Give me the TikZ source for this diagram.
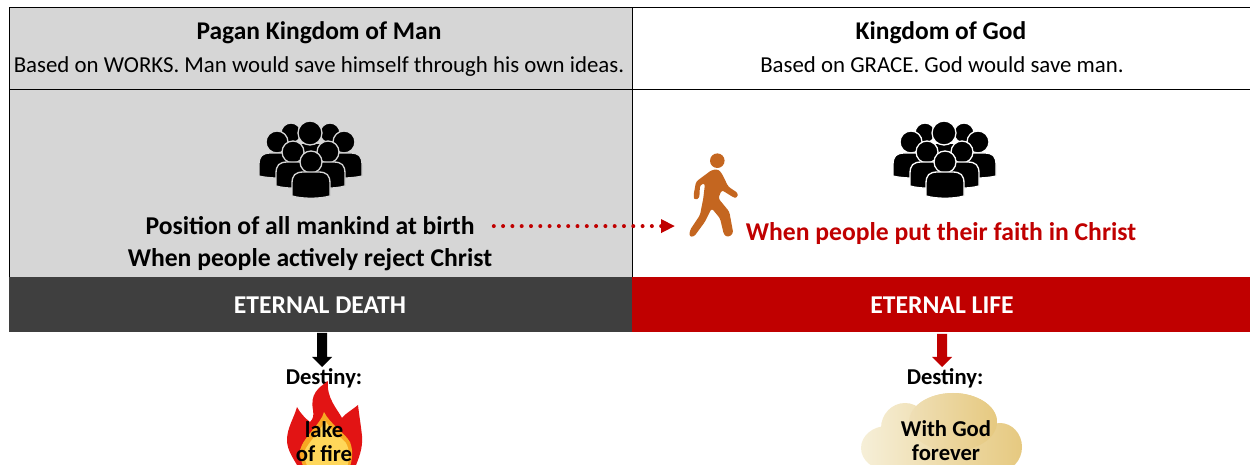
\documentclass[tikz,border=0pt]{standalone}
\usepackage{fontspec}
\setmainfont{Carlito}
\usetikzlibrary{arrows.meta,calc}
\definecolor{cellgray}{HTML}{D6D6D6}
\definecolor{banddark}{HTML}{3F3F3F}
\definecolor{bandred}{HTML}{C00000}
\definecolor{walkcol}{HTML}{C46620}
\definecolor{flamered}{HTML}{E21414}
\definecolor{flameorange}{HTML}{F7A823}
\definecolor{flameyellow}{HTML}{FFD75A}
\definecolor{cloudpale}{HTML}{F6EFD8}
\definecolor{cloudmid}{HTML}{EFDFB6}
\definecolor{clouddeep}{HTML}{E6C980}
\newcommand{\crowdbody}[4]{% center x, top y, half width, bottom y
	\filldraw (#1-#3,#4-2) -- (#1-#3,#2+12) .. controls (#1-#3,#2+3) and (#1-#3+3,#2) .. (#1-#3+12,#2)
	-- (#1+#3-12,#2) .. controls (#1+#3-3,#2) and (#1+#3,#2+3) .. (#1+#3,#2+12) -- (#1+#3,#4-2)
	.. controls (#1+#3-10,#4+1) and (#1-#3+10,#4+1) .. cycle;
}
\tikzset{
	title/.style={font=\fontsize{14.5}{16}\selectfont\bfseries},
	subtitle/.style={font=\fontsize{13}{15}\selectfont},
	bigtext/.style={font=\fontsize{14.6}{16}\selectfont\bfseries},
	bandtext/.style={font=\fontsize{14.6}{16}\selectfont\bfseries, text=white},
	desttext/.style={font=\fontsize{12.9}{13.6}\selectfont\bfseries, align=center},
	pics/crowd/.style={code={
		\begin{scope}[fill=black, draw=#1, line width=0.026cm]
			\filldraw (-19,-27) circle (10);
			\filldraw (20,-27) circle (10);
			\fill (-10,-16) rectangle (10,8);
			\filldraw (0,-27) circle (12);
			\filldraw (-33,-18) circle (11);
			\filldraw (34,-18) circle (11);
			\crowdbody{-25}{-7}{26}{18}
			\crowdbody{26}{-7}{26}{18}
			\fill (-8,-8) rectangle (8,8);
			\filldraw (-17,-8) circle (11);
			\filldraw (18,-8) circle (11);
			\crowdbody{-14}{2}{20}{28}
			\crowdbody{15}{2}{20}{28}
			\filldraw (1,2) circle (11);
			\crowdbody{1}{12}{19}{38}
		\end{scope}
	}}
}
\begin{document}
\begin{tikzpicture}[x=0.02cm, y=-0.02cm, line join=round, >=stealth]
	\useasboundingbox (0,0) rectangle (1250,465);
	\clip (0,0) rectangle (1250,465);
	\path
	(9,8) coordinate (TL)
	(632,8) coordinate (TM)
	(1250,8) coordinate (TR)
	(9,90) coordinate (HL)
	(632,90) coordinate (HM)
	(1250,90) coordinate (HR)
	(9,277) coordinate (BL)
	(632,277) coordinate (BM)
	(1250,277) coordinate (BR)
	(9,332) coordinate (EL)
	(632,332) coordinate (EM)
	(1250,332) coordinate (ER)
	(675,226) coordinate (walker)
	;
	% cells and bands
	\fill[cellgray] (TL) rectangle (BM);
	\fill[banddark] (BL) rectangle (EM);
	\fill[bandred] (BM) rectangle (ER);
	\draw[line width=0.02cm] (TR)--(TL)--(BL) (HL)--(HR) (TM)--(BM);
	% texts
	\foreach \ten/\x/\y/\kieu/\chu in {
		lefttitle/319/40/title/Pagan Kingdom of Man,
		righttitle/941/40/title/Kingdom of God,
		leftsub/319/73/subtitle/Based on WORKS. Man would save himself through his own ideas.,
		rightsub/942/73/subtitle/Based on GRACE. God would save man.,
		birth/310/235/bigtext/Position of all mankind at birth,
		reject/310/267/bigtext/When people actively reject Christ,
		death/320/314/bandtext/ETERNAL DEATH,
		life/942/314/bandtext/ETERNAL LIFE,
		destleft/324/385/desttext/Destiny:,
		destright/945/385/desttext/Destiny:}{
		\node[\kieu, inner sep=0pt, anchor=base] (\ten) at (\x,\y) {\chu};
	}
	\node[bigtext, text=bandred, inner sep=0pt, anchor=base] (faith) at (941,241) {When people put their faith in Christ};
	% people
	\pic at (310,160) {crowd=cellgray};
	\pic at (944,160) {crowd=white};
	\fill[walkcol] (717.3,160.7) circle (7.3);
	\fill[walkcol, rounded corners=0.05cm] (711.7,170)--(718.3,169.3)--(721.7,173.3)--(728.3,186.7)--(738.3,193.3)--(736.7,198.3)--(733.3,197.3)--(721.7,190)
	--(718.3,198.3)--(729.3,211.7)--(733.3,233.3)--(728.3,237.3)--(724,235)--(720,218.3)--(711.7,208.3)--(705,221.7)--(694,236.7)--(689.3,236.7)
	--(690,230)--(700,215)--(703.3,198.3)--(705,183.3)--(700,185)--(699.3,198.3)--(695,200)--(693.3,196.7)--(696,181.7)--cycle;
	% dotted arrow
	\draw[bandred, line width=0.08cm, line cap=round, dash pattern=on 0pt off 0.186cm, -{Triangle[length=0.28cm,width=0.26cm]}]
	($(birth.east)+(19,0)$)--(birth.east -| walker);
	% block arrows
	\fill[black] (317,333)--(327,333)--(327,357)--(332,357)--(322,367)--(312,357)--(317,357)--cycle;
	\fill[bandred] (937,334)--(947,334)--(947,357)--(952,357)--(942,367)--(932,357)--(937,357)--cycle;
	% flame
	\fill[flamered] (328,381) .. controls (318,388) and (310,394) .. (313,410) .. controls (314,416) and (313,419) .. (310,422)
	.. controls (306,419) and (300,413) .. (297,407) .. controls (294,418) and (287,428) .. (287,440)
	.. controls (287,450) and (293,458) .. (300,470) -- (354,470) .. controls (359,458) and (363,448) .. (362,436)
	.. controls (361,426) and (359,414) .. (358,405) .. controls (352,410) and (346,413) .. (342,418)
	.. controls (338,410) and (326,398) .. cycle;
	\fill[flameorange] (324,412) .. controls (321,424) and (304,436) .. (300,450) .. controls (299,456) and (302,464) .. (305,470)
	-- (349,470) .. controls (353,458) and (353,450) .. (350,442) .. controls (344,432) and (330,424) .. cycle;
	\fill[flameyellow] (325,420) .. controls (322,430) and (308,442) .. (304,452) .. controls (304,458) and (306,464) .. (309,470)
	-- (346,470) .. controls (350,460) and (350,450) .. (346,443) .. controls (340,436) and (330,430) .. cycle;
	\node[desttext, inner sep=0pt] (lake) at (324,442) {lake\\of fire};
	% cloud
	\shade[left color=cloudpale, right color=clouddeep] (905,428) ellipse (24 and 25) (887,448) ellipse (26 and 22)
	(1000,447) ellipse (22 and 24) (953,422) ellipse (44 and 29) (945,455) ellipse (55 and 30);
	\shade[left color=cloudmid, right color=clouddeep] (953,422) ellipse (44 and 29);
	\node[desttext, inner sep=0pt] (godtext) at (946,441) {With God\\forever};
\end{tikzpicture}
\end{document}
